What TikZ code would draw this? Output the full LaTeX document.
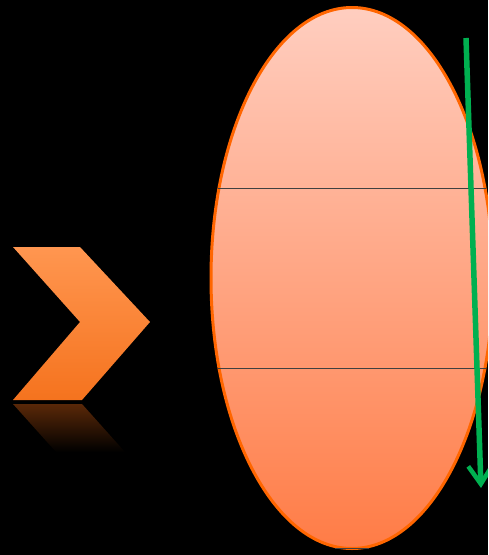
\documentclass[tikz,border=0pt]{standalone}
\usetikzlibrary{shapes.geometric,arrows.meta}
\definecolor{bandtop}{RGB}{255,206,192}
\definecolor{bandbot}{RGB}{255,124,70}
\definecolor{rimorange}{RGB}{255,102,0}
\definecolor{chevlight}{RGB}{255,150,80}
\definecolor{chevdark}{RGB}{245,115,30}
\definecolor{chevshadow}{RGB}{90,40,8}
\definecolor{flowgreen}{RGB}{0,176,80}
\begin{document}
\begin{tikzpicture}[
x=1pt,y=-1pt,
band/.style={ellipse,draw=rimorange,line width=3pt,top color=bandtop,bottom color=bandbot,
  minimum width=282pt,minimum height=541pt,inner sep=0pt},
divider/.style={draw=black!75,line width=0.8pt},
flow/.style={draw=flowgreen,line width=5.5pt,-{Straight Barb[length=18pt,width=24pt,line width=4.5pt]}}
]
\fill[black] (0,0) rectangle (488,555);
\useasboundingbox (0,0) rectangle (488,555);
\clip (0,0) rectangle (488,555);
% chevron and its reflection
\shade[top color=chevshadow,bottom color=black] (13,404) -- (82,404) -- (125,452) -- (56,452) -- cycle;
\shade[top color=chevlight,bottom color=chevdark] (13,247) -- (80,247) -- (150,322) -- (82,400) -- (13,400) -- (80,322) -- cycle;
% column
\node[band] (col) at (352,278) {};
\coordinate (d1l) at (218,188);
\coordinate (d1r) at (486,188);
\coordinate (d2l) at (218,368);
\coordinate (d2r) at (486,368);
\coordinate (d3l) at (335,548);
\coordinate (d3r) at (369,548);
\draw[divider] (d1l) -- (d1r);
\draw[divider] (d2l) -- (d2r);
\draw[divider] (d3l) -- (d3r);
% arrow
\coordinate (start) at (466,38);
\coordinate (end) at (481,488);
\draw[flow] (start) -- (end);
\end{tikzpicture}
\end{document}
